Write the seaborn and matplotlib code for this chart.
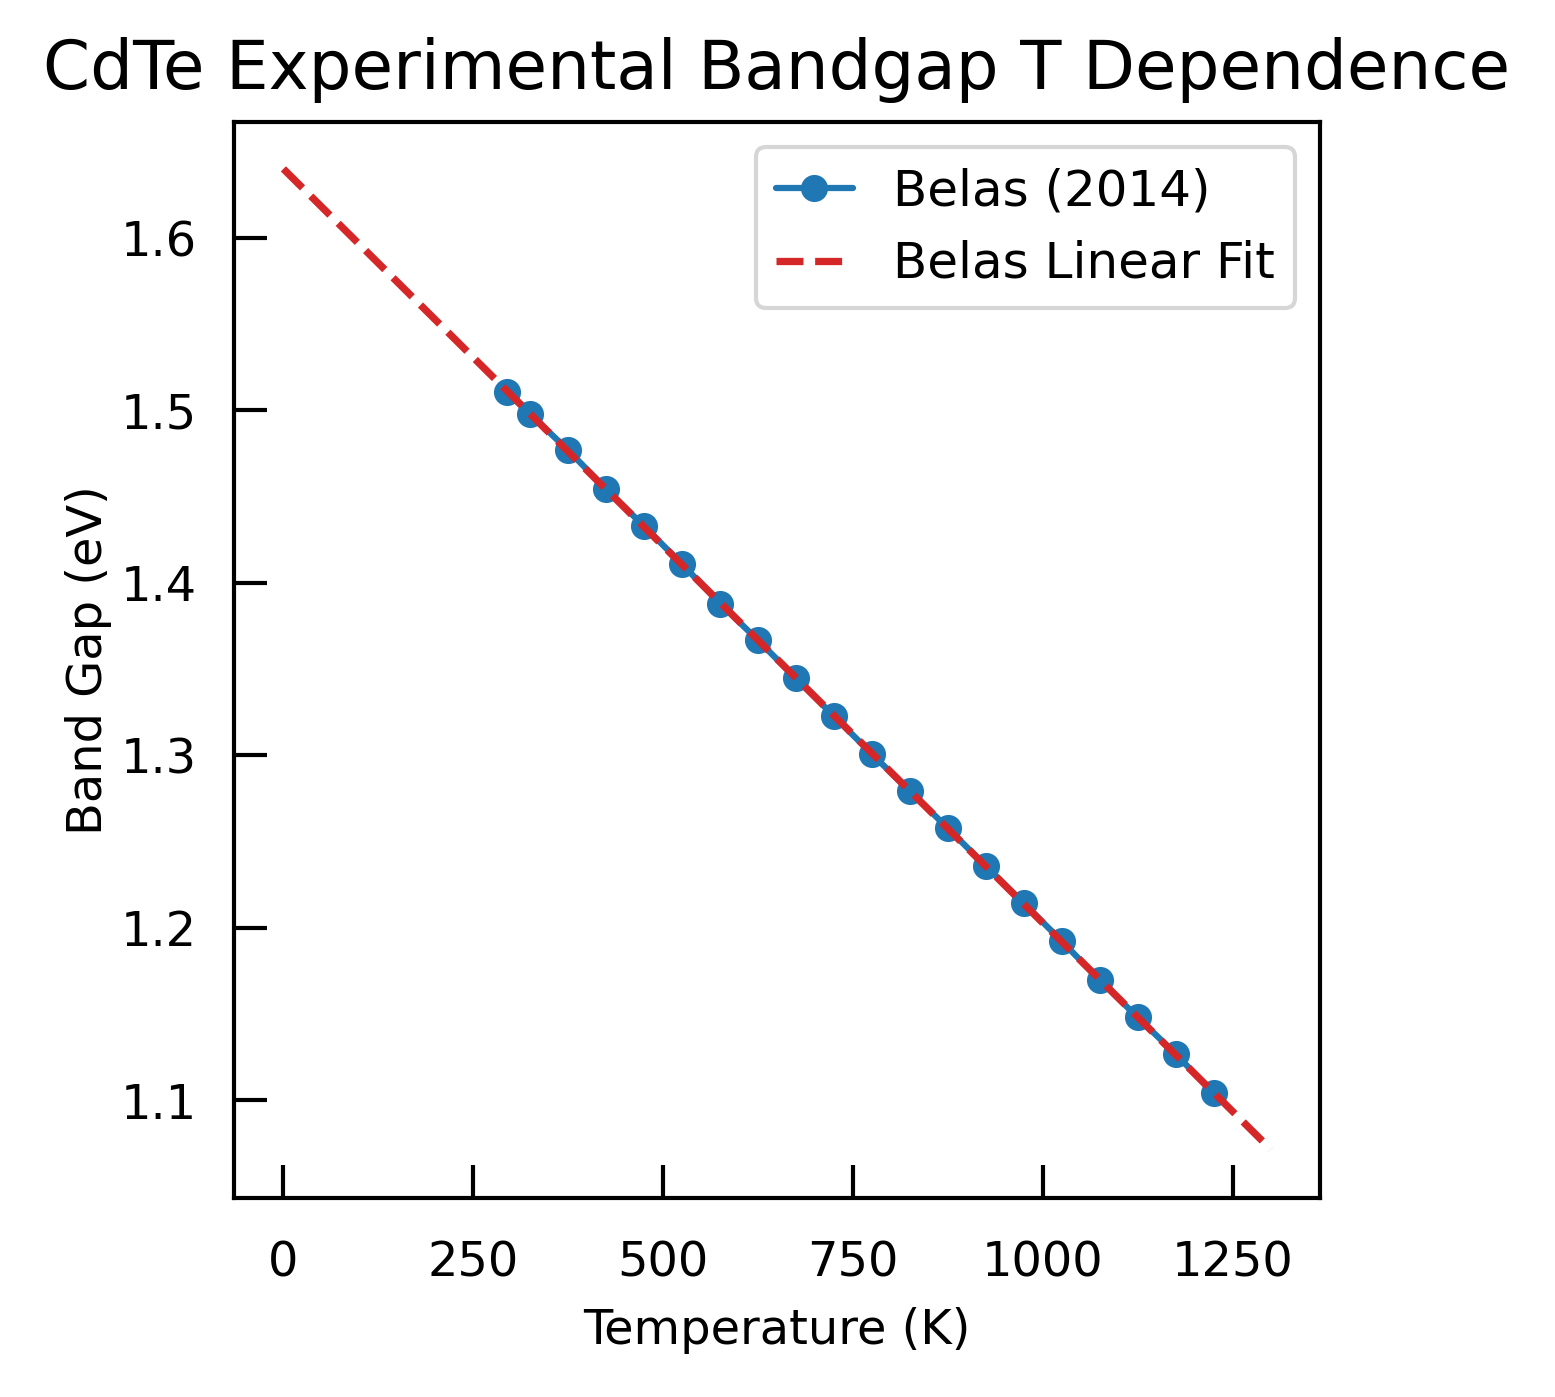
import numpy as np
import pandas as pd
import matplotlib
matplotlib.use("Agg")
import matplotlib.pyplot as plt
import seaborn as sns

# Data
temperature_K = [295, 325, 375, 425, 475, 525, 575, 625, 675, 725,
                 775, 825, 875, 925, 975, 1025, 1075, 1125, 1175, 1225]
bandgap_eV = [1.5104, 1.4978, 1.4769, 1.4543, 1.4328, 1.4108, 1.3880, 1.3667,
              1.3446, 1.3227, 1.3007, 1.2792, 1.2577, 1.2357, 1.2142, 1.1922,
              1.1696, 1.1480, 1.1268, 1.1039]
fit_range_K = [0, 1300]
x_ticks = [0, 250, 500, 750, 1000, 1250]
y_ticks = [1.1, 1.2, 1.3, 1.4, 1.5, 1.6]

title = "CdTe Experimental Bandgap T Dependence"
data_label = "Belas (2014)"
fit_label = "Belas Linear Fit"

sns.set_theme(style="ticks")
plt.rcParams['font.family'] = ['DejaVu Sans']
plt.rcParams['axes.linewidth'] = 1.0
plt.rcParams['text.color'] = 'black'
plt.rcParams['axes.labelcolor'] = 'black'
plt.rcParams['xtick.color'] = 'black'
plt.rcParams['ytick.color'] = 'black'

dpi = 300
fig = plt.figure(figsize=(1555 / dpi, 1397 / dpi), dpi=dpi)
ax = fig.add_axes([234 / 1555, 1 - 1198 / 1397, (1320 - 234) / 1555, (1198 - 122) / 1397])

df = pd.DataFrame({"T": temperature_K, "Eg": bandgap_eV})
sns.lineplot(data=df, x="T", y="Eg", ax=ax, color="#1f77b4", marker="o",
             markersize=6.5, markeredgewidth=0, linewidth=1.5, label=data_label)

slope, intercept = np.polyfit(temperature_K, bandgap_eV, 1)
fit_x = np.linspace(fit_range_K[0], fit_range_K[1], 200)
fit_df = pd.DataFrame({"T": fit_x, "Eg": slope * fit_x + intercept})
sns.lineplot(data=fit_df, x="T", y="Eg", ax=ax, color="#d62728",
             linestyle="--", linewidth=1.75, label=fit_label)

ax.set_xticks(x_ticks)
ax.set_yticks(y_ticks)
ax.set_xlim(-65, 1365)
ax.set_ylim(1.0433, 1.6672)
ax.tick_params(direction="in", length=8, width=1.0, labelsize=11.5,
               color="black", labelcolor="black")
ax.tick_params(axis="x", pad=10)
ax.tick_params(axis="y", pad=9)
for s in ax.spines.values():
    s.set_color("black")
    s.set_linewidth(1.0)

ax.set_xlabel("Temperature (K)", fontsize=11.5, labelpad=5, color="black")
ax.set_ylabel("Band Gap (eV)", fontsize=11.5, labelpad=2, color="black")
ax.set_title(title, fontsize=16.2, pad=8, color="black")

leg = ax.legend(loc="upper right", fontsize=12, handlelength=1.55,
                frameon=True, fancybox=True, edgecolor="0.8", framealpha=0.8)
for t in leg.get_texts():
    t.set_color("black")

fig.savefig("out.png", dpi=dpi)
